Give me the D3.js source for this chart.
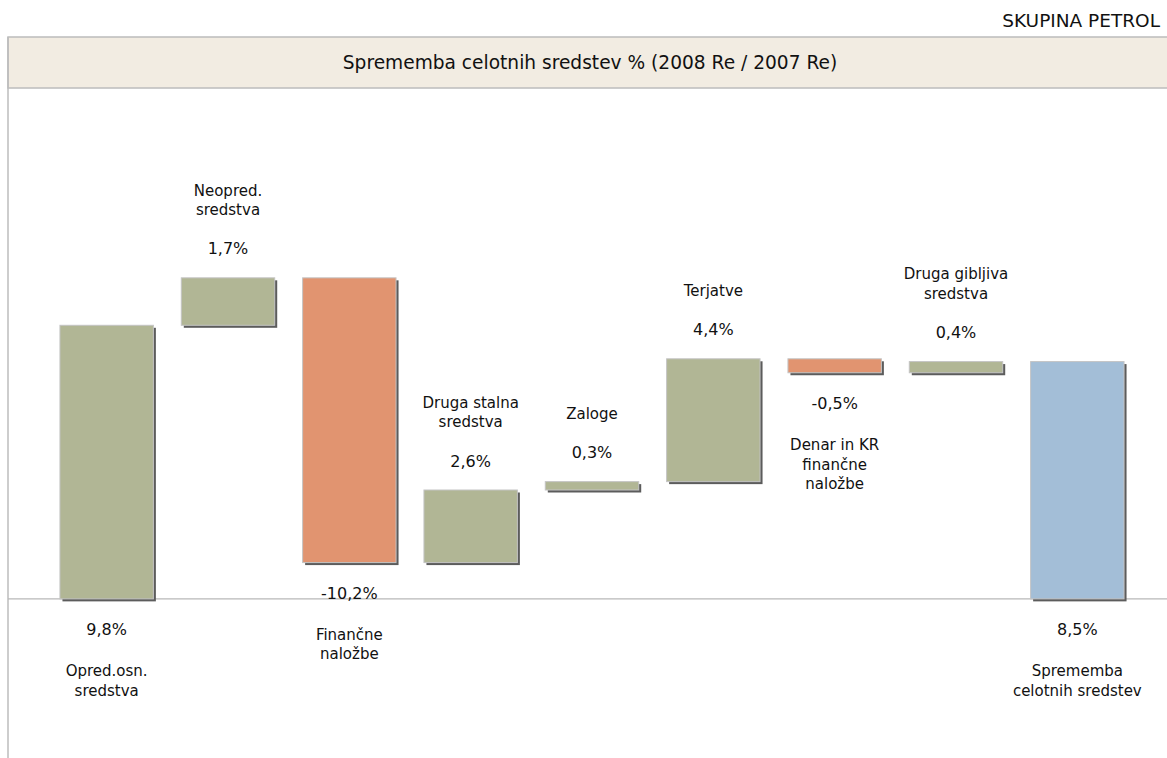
<!DOCTYPE html>
<html>
<head>
<meta charset="utf-8">
<script src="https://cdn.jsdelivr.net/npm/d3@7"></script>
<style>
  body { margin: 0; background: #fff; }
  svg { display: block; font-family: "DejaVu Sans", sans-serif; }
</style>
</head>
<body>
<svg id="chart"></svg>
<script>
var categories = [
  "Opred.osn.\nsredstva",
  "Neopred.\nsredstva",
  "Finančne\nnaložbe",
  "Druga stalna\nsredstva",
  "Zaloge",
  "Terjatve",
  "Denar in KR\nfinančne\nnaložbe",
  "Druga gibljiva\nsredstva",
  "Sprememba\ncelotnih sredstev"
]
var changes = [9.8, 1.7, -10.2, 2.6, 0.3, 4.4, -0.5, 0.4]
var totalValue = 8.5
var company = "SKUPINA PETROL"
var title = "Sprememba celotnih sredstev % (2008 Re / 2007 Re)"

var width = 1167, height = 758
var plot = { left: 8, top: 37, headerH: 51 }

var colors = { up: "#b1b695", down: "#e19470", total: "#a3bed7" }

// build waterfall rows
var rows = []
var run = 0
changes.forEach(function(v, i) {
  var start = run
  run = run + v
  rows.push({ name: categories[i], value: v, y0: start, y1: run, kind: i == 0 ? "first" : (v >= 0 ? "up" : "down") })
})
rows.push({ name: categories[categories.length - 1], value: totalValue, y0: 0, y1: totalValue, kind: "total" })

var svg = d3.select("#chart").attr("width", width).attr("height", height)

var xScale = d3.scaleBand()
  .domain(rows.map(d => d.name))
  .range([46, 1138])
  .paddingInner(0.23)
  .paddingOuter(0.115)

var yScale = d3.scaleLinear()
  .domain([-5.7, 18.3])
  .range([height, plot.top + plot.headerH])

var fmt = d3.format(".1f")
var pct = v => fmt(v).replace(".", ",").replace("\u2212", "-") + "%"

// company name
svg.append("text")
  .attr("x", 1160).attr("y", 21)
  .attr("text-anchor", "end")
  .attr("dy", "0.35em")
  .style("font-size", "18.5px")
  .style("fill", "#111")
  .text(company)

// header band
svg.append("rect")
  .attr("x", plot.left).attr("y", plot.top)
  .attr("width", width).attr("height", plot.headerH)
  .style("fill", "#f2ece2")
  .style("stroke", "#bcbcbc")
  .style("stroke-width", 1.5)

svg.append("text")
  .attr("x", 590).attr("y", plot.top + plot.headerH / 2)
  .attr("text-anchor", "middle")
  .attr("dy", "0.35em")
  .style("font-size", "18.6px")
  .style("fill", "#111")
  .text(title)

// left frame line
svg.append("line")
  .attr("x1", plot.left).attr("x2", plot.left)
  .attr("y1", plot.top).attr("y2", height)
  .style("stroke", "#bcbcbc").style("stroke-width", 1.5)

// zero line
svg.append("line")
  .attr("x1", plot.left).attr("x2", width)
  .attr("y1", yScale(0)).attr("y2", yScale(0))
  .style("stroke", "#b8b8b8").style("stroke-width", 1.2)

var bw = xScale.bandwidth()

// shadows
svg.append("g")
  .selectAll("rect")
  .data(rows)
  .enter()
  .append("rect")
  .attr("x", d => xScale(d.name) + 2.5)
  .attr("y", d => yScale(Math.max(d.y0, d.y1)) + 2.5)
  .attr("width", bw)
  .attr("height", d => Math.abs(yScale(d.y0) - yScale(d.y1)))
  .style("fill", "#5c5c5c")

// bars
svg.append("g")
  .selectAll("rect")
  .data(rows)
  .enter()
  .append("rect")
  .attr("x", d => xScale(d.name))
  .attr("y", d => yScale(Math.max(d.y0, d.y1)))
  .attr("width", bw)
  .attr("height", d => Math.abs(yScale(d.y0) - yScale(d.y1)))
  .style("fill", d => d.kind == "down" ? colors.down : (d.kind == "total" ? colors.total : colors.up))
  .style("stroke", "#c4c4c4")
  .style("stroke-width", 1)

// labels
var lineH = 19.5
rows.forEach(function(d) {
  var cx = xScale(d.name) + bw / 2
  var lines = d.name.split("\n")
  var g = svg.append("g").style("font-size", "15px").style("fill", "#111")
  var valY, nameY
  if (d.kind == "up") {
    valY = yScale(d.y1) - 29
    nameY = valY - 39 - (lines.length - 1) * lineH
  } else {
    var bottom = d.kind == "down" ? yScale(d.y1) : yScale(0)
    valY = bottom + 31
    nameY = valY + 41
  }
  g.append("text")
    .attr("x", cx).attr("y", valY)
    .attr("text-anchor", "middle").attr("dy", "0.35em")
    .style("font-size", "16px")
    .text(pct(d.value))
  lines.forEach(function(l, i) {
    g.append("text")
      .attr("x", cx).attr("y", nameY + i * lineH)
      .attr("text-anchor", "middle").attr("dy", "0.35em")
      .text(l)
  })
})
</script>
</body>
</html>
